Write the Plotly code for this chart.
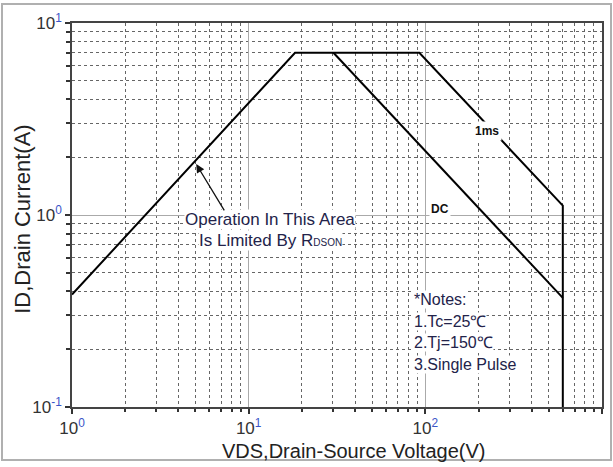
import plotly.graph_objects as go

# ---- data ----
# Safe operating area envelope: RDSON limit -> current limit -> 1ms pulse -> VDS limit
soa_1ms_v = [1.0, 18.3, 92.5, 600.0, 600.0]
soa_1ms_i = [0.385, 7.0, 7.0, 1.12, 0.1]
# DC line
dc_v = [30.2, 600.0]
dc_i = [7.0, 0.37]

x_major = [1, 10, 100, 1000]
x_major_exp = ["0", "1", "2", "3"]
y_major = [0.1, 1, 10]
y_major_exp = ["-1", "0", "1"]
minor_digits = [2, 3, 4, 5, 6, 7, 8, 9]

x_title = "VDS,Drain-Source Voltage(V)"
y_title = "ID,Drain Current(A)"
notes = ["*Notes:", "1.Tc=25℃", "2.Tj=150℃", "3.Single Pulse"]

FONT = "Liberation Sans, Arial, sans-serif"
TXT = "#23234a"
SUP = "#3a55c8"

def labels(exps):
    return [f"10<sup><span style='color:{SUP}'>{e}</span></sup>" for e in exps]

x_minor = [d * m for m in [1, 10, 100] for d in minor_digits]
y_minor = [d * m for m in [0.1, 1] for d in minor_digits]

fig = go.Figure()
fig.add_trace(go.Scatter(x=soa_1ms_v, y=soa_1ms_i, mode="lines",
                         line=dict(color="black", width=2), showlegend=False, hoverinfo="skip"))
fig.add_trace(go.Scatter(x=dc_v, y=dc_i, mode="lines",
                         line=dict(color="black", width=2), showlegend=False, hoverinfo="skip"))

axis_common = dict(
    type="log", showline=True, linecolor="#444", linewidth=1.5, mirror=True,
    ticks="outside", ticklen=5, tickcolor="#333", tickwidth=1.5,
    showgrid=True, gridcolor="#aaaaaa", gridwidth=1,
    tickfont=dict(family=FONT, size=17, color="#333"),
    zeroline=False, automargin=False,
)

fig.update_xaxes(**axis_common, range=[0, 3], tickvals=x_major, ticktext=labels(x_major_exp),
                 minor=dict(tickvals=x_minor, ticks="outside", ticklen=3, tickcolor="#333",
                            showgrid=True, gridcolor="#666", griddash="dot", gridwidth=1))
fig.update_yaxes(**axis_common, range=[-1, 1], tickvals=y_major, ticktext=labels(y_major_exp),
                 minor=dict(tickvals=y_minor, ticks="outside", ticklen=4, tickcolor="#333",
                            showgrid=True, gridcolor="#666", griddash="dot", gridwidth=1))

ann = []
# axis titles
ann.append(dict(x=0.532, xref="paper", y=-0.114, yref="paper", text=x_title, showarrow=False,
                xanchor="center", yanchor="middle", font=dict(family=FONT, size=20, color="#222")))
ann.append(dict(x=-0.0925, xref="paper", y=0.49, yref="paper", text=y_title, showarrow=False,
                textangle=-90, xanchor="center", yanchor="middle",
                font=dict(family=FONT, size=22, color="#222")))
# curve labels
ann.append(dict(x=2.351, xref="x", y=0.436, yref="y", text="<b>1ms</b>",
                showarrow=False, font=dict(family=FONT, size=12, color="#111"), bgcolor="white",
                borderpad=2))
ann.append(dict(x=2.085, xref="x", y=0.031, yref="y", text="<b>DC</b>",
                showarrow=False, font=dict(family=FONT, size=12, color="#111"), bgcolor="white",
                borderpad=1))
# RDSON annotation
ann.append(dict(x=1.122, xref="x", y=-0.021, yref="y",
                text="Operation In This Area", showarrow=False, xanchor="center",
                font=dict(family=FONT, size=17, color=TXT), bgcolor="white", borderpad=0))
ann.append(dict(x=1.122, xref="x", y=-0.135, yref="y",
                text="Is Limited By R<span style='font-size:10px'>DSON</span>", showarrow=False,
                xanchor="center", font=dict(family=FONT, size=17, color=TXT), bgcolor="white",
                borderpad=0))
# arrow
ann.append(dict(x=0.703, xref="x", y=0.265, yref="y", ax=0.867, axref="x", ay=0.016, ayref="y",
                text="", showarrow=True, arrowhead=2, arrowsize=1.3, arrowwidth=1.3,
                arrowcolor="#111"))
# notes
note_y = [-0.442, -0.556, -0.665, -0.779]
for t, yv in zip(notes, note_y):
    ann.append(dict(x=1.932, xref="x", y=yv, yref="y", text=t, showarrow=False,
                    xanchor="left", font=dict(family=FONT, size=16, color=TXT),
                    bgcolor="white", borderpad=0))

fig.update_layout(
    width=613, height=467,
    margin=dict(l=72, r=11, t=23, b=60),
    paper_bgcolor="white", plot_bgcolor="white",
    annotations=ann,
    shapes=[dict(type="rect", xref="paper", yref="paper",
                 x0=-70 / 530, x1=1 + 9 / 530, y0=-53 / 384, y1=1 + 19 / 384,
                 line=dict(color="#b0b0b0", width=2), layer="below")],
)

fig.write_html("out.html", config={"displayModeBar": False},
               post_script="document.body.style.margin='0';document.body.style.overflow='hidden';")
